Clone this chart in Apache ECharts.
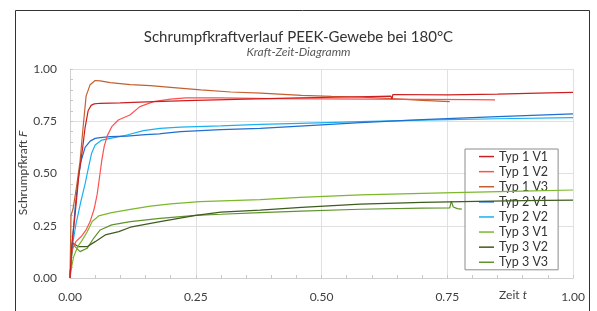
<!DOCTYPE html>
<html><head><meta charset="utf-8">
<script src="https://cdn.jsdelivr.net/npm/echarts@6/dist/echarts.min.js"></script>
<style>html,body{margin:0;padding:0;background:#fff}#c{width:597px;height:311px}</style>
</head><body><div id="c"></div>
<script>
// Tick labels
var xTicks = [0, 0.25, 0.5, 0.75, 1.0];
var yTicks = [0, 0.25, 0.5, 0.75, 1.0];
var seriesNames = ['Typ 1 V1','Typ 1 V2','Typ 1 V3','Typ 2 V1','Typ 2 V2','Typ 3 V1','Typ 3 V2','Typ 3 V3'];
// [t, F] pairs
var typ1v1 = [[0,0],[0.004,0.17],[0.01,0.3],[0.018,0.5],[0.025,0.62],[0.03,0.72],[0.036,0.8],[0.042,0.826],[0.048,0.833],[0.06,0.836],[0.1,0.838],[0.167,0.844],[0.25,0.85],[0.35,0.856],[0.457,0.862],[0.55,0.866],[0.638,0.87],[0.64,0.856],[0.642,0.878],[0.645,0.871],[0.75,0.876],[0.85,0.88],[0.93,0.885],[1.0,0.888]];
var typ1v2 = [[0,0],[0.003,0.12],[0.007,0.15],[0.012,0.175],[0.023,0.2],[0.032,0.23],[0.04,0.27],[0.048,0.33],[0.054,0.4],[0.058,0.47],[0.063,0.56],[0.068,0.63],[0.074,0.68],[0.083,0.724],[0.096,0.756],[0.119,0.78],[0.139,0.82],[0.166,0.844],[0.2,0.856],[0.23,0.862],[0.3,0.862],[0.4,0.858],[0.5,0.857],[0.6,0.856],[0.7,0.855],[0.8,0.853],[0.845,0.852]];
var typ1v3 = [[0,0],[0.002,0.3],[0.006,0.33],[0.012,0.42],[0.02,0.56],[0.026,0.72],[0.032,0.87],[0.04,0.925],[0.05,0.945],[0.06,0.943],[0.08,0.935],[0.12,0.925],[0.16,0.92],[0.2,0.912],[0.26,0.9],[0.32,0.89],[0.38,0.885],[0.46,0.874],[0.52,0.869],[0.58,0.865],[0.64,0.858],[0.7,0.85],[0.755,0.844]];
var typ2v1 = [[0,0],[0.004,0.15],[0.01,0.33],[0.016,0.47],[0.022,0.56],[0.03,0.625],[0.04,0.655],[0.05,0.668],[0.06,0.672],[0.08,0.676],[0.113,0.679],[0.15,0.686],[0.178,0.69],[0.181,0.682],[0.185,0.692],[0.22,0.7],[0.3,0.71],[0.378,0.716],[0.457,0.727],[0.577,0.743],[0.7,0.758],[0.85,0.772],[1.0,0.785]];
var typ2v2 = [[0,0],[0.003,0.13],[0.012,0.26],[0.021,0.36],[0.03,0.45],[0.036,0.52],[0.043,0.597],[0.05,0.636],[0.063,0.66],[0.08,0.668],[0.113,0.684],[0.146,0.705],[0.179,0.716],[0.219,0.722],[0.3,0.728],[0.378,0.735],[0.457,0.74],[0.577,0.748],[0.7,0.755],[0.85,0.762],[1.0,0.767]];
var typ3v1 = [[0,0],[0.003,0.05],[0.007,0.1],[0.012,0.13],[0.018,0.16],[0.024,0.18],[0.034,0.22],[0.044,0.27],[0.057,0.297],[0.083,0.313],[0.12,0.328],[0.16,0.344],[0.2,0.355],[0.258,0.365],[0.378,0.375],[0.457,0.386],[0.577,0.398],[0.7,0.405],[0.785,0.41],[0.9,0.416],[1.0,0.421]];
var typ3v2 = [[0,0],[0.005,0.169],[0.01,0.16],[0.017,0.15],[0.034,0.15],[0.05,0.174],[0.07,0.206],[0.097,0.222],[0.12,0.243],[0.179,0.27],[0.25,0.3],[0.3,0.315],[0.378,0.325],[0.46,0.338],[0.577,0.353],[0.7,0.362],[0.78,0.365],[0.9,0.37],[1.0,0.373]];
var typ3v3 = [[0,0],[0.005,0.169],[0.01,0.15],[0.02,0.126],[0.034,0.142],[0.047,0.19],[0.06,0.23],[0.083,0.254],[0.12,0.27],[0.179,0.285],[0.25,0.3],[0.3,0.305],[0.378,0.313],[0.46,0.32],[0.577,0.329],[0.7,0.334],[0.755,0.336],[0.758,0.368],[0.762,0.34],[0.77,0.332],[0.779,0.33]];
var seriesData = [typ1v1,typ1v2,typ1v3,typ2v1,typ2v2,typ3v1,typ3v2,typ3v3];
var colors = ['#cc2020','#ff5050','#c4602f','#1f6fd0','#1cb0f0','#7cb82a','#3d5c1e','#5f942c'];

var FONT = 'Lato';
var chart = echarts.init(document.getElementById('c'), null, {renderer:'canvas'});
var series = seriesNames.map(function(n,i){
  return {name:n, type:'line', data:seriesData[i], showSymbol:false, symbol:'none', smooth:false,
    lineStyle:{width:1.2, color:colors[i]}, itemStyle:{color:colors[i]}, z: 10-i, animation:false};
});
function fmt(v){return v.toFixed(2);}
function mkAxis(ticks){
  return {
    type:'value', min:0, max:1, interval:0.25,
    axisLine:{show:true, lineStyle:{color:'#d0d0d0', width:1}},
    axisTick:{show:true, inside:true, length:3, lineStyle:{color:'#c8c8c8'}},
    minorTick:{show:true, splitNumber:5, length:3, lineStyle:{color:'#c8c8c8'}},
    splitLine:{show:true, lineStyle:{color:'#e0e0e0', width:1}},
    axisLabel:{color:'#404040', fontSize:12, fontFamily:FONT, margin:13, formatter:fmt, customValues:ticks}
  };
}

chart.setOption({
  backgroundColor:'#fff',
  animation:false,
  title:{text:'Schrumpfkraftverlauf PEEK-Gewebe bei 180°C', subtext:'Kraft-Zeit-Diagramm', left:'center', top:25, itemGap:1,
    textStyle:{fontFamily:FONT, fontSize:15, fontWeight:'normal', color:'#333'},
    subtextStyle:{fontFamily:FONT, fontSize:12, fontStyle:'italic', color:'#595959'}},
  grid:{left:70, right:24, top:69, bottom:33, containLabel:false},
  xAxis: mkAxis(xTicks),
  yAxis: mkAxis(yTicks),
  legend:{orient:'vertical', left:465, top:149, padding:[0,10,0,14], itemGap:0,
    itemWidth:15, itemHeight:1.5, icon:'rect', data:seriesNames,
    backgroundColor:'#fff', borderColor:'#8c8c8c', borderWidth:1,
    textStyle:{fontFamily:FONT, fontSize:12.5, color:'#333', lineHeight:15.1, padding:[0,0,0,0]}, itemStyle:{borderWidth:0}},
  series: series,
  graphic:[
    {type:'rect', shape:{x:15.5, y:10.5, width:574, height:330}, style:{fill:'none', stroke:'#333', lineWidth:1}, z:100},
    {type:'text', x:23, y:173, rotation:Math.PI/2, style:{text:'{n|Schrumpfkraft }{i|F}', align:'center', verticalAlign:'middle', fill:'#404040',
      rich:{n:{fontFamily:FONT, fontSize:12, fill:'#404040'}, i:{fontFamily:FONT, fontSize:12, fontStyle:'italic', fill:'#404040'}}}},
    {type:'text', x:513, y:295, style:{text:'{n|Zeit }{i|t}', align:'center', verticalAlign:'middle', fill:'#404040',
      rich:{n:{fontFamily:FONT, fontSize:12, fill:'#404040'}, i:{fontFamily:FONT, fontSize:12, fontStyle:'italic', fill:'#404040'}}}}
  ]
});
</script></body></html>
